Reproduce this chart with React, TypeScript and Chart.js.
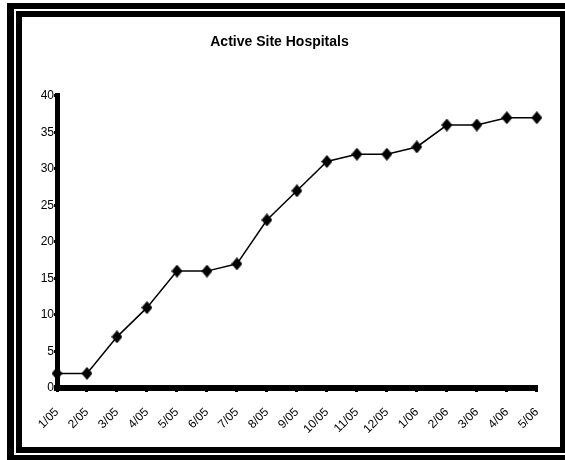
import React, { useEffect, useRef } from "react";
import { Chart, registerables } from "chart.js";

Chart.register(...registerables);

const categories = ["1/05", "2/05", "3/05", "4/05", "5/05", "6/05", "7/05", "8/05", "9/05", "10/05", "11/05", "12/05", "1/06", "2/06", "3/06", "4/06", "5/06"];
const hospitals = [2, 2, 7, 11, 16, 16, 17, 23, 27, 31, 32, 32, 33, 36, 36, 37, 37];
const yMin = 0;
const yMax = 40;
const yStep = 5;
const titleText = "Active Site Hospitals";

function makeDiamond(w: number, h: number): HTMLCanvasElement {
  const c = document.createElement("canvas");
  c.width = w;
  c.height = h;
  const ctx = c.getContext("2d")!;
  ctx.fillStyle = "#000";
  ctx.beginPath();
  ctx.moveTo(w / 2, 0);
  ctx.lineTo(w, h / 2);
  ctx.lineTo(w / 2, h);
  ctx.lineTo(0, h / 2);
  ctx.closePath();
  ctx.fill();
  return c;
}

export default function App() {
  const ref = useRef<HTMLCanvasElement | null>(null);

  useEffect(() => {
    if (!ref.current) return;
    const diamond = makeDiamond(11, 13);
    const chart = new Chart(ref.current, {
      type: "line",
      data: {
        labels: categories,
        datasets: [
          {
            data: hospitals,
            borderColor: "#000",
            backgroundColor: "#000",
            borderWidth: 1.5,
            pointStyle: diamond as any,
            pointRadius: 6,
            tension: 0,
          },
        ],
      },
      options: {
        animation: false,
        responsive: false,
        maintainAspectRatio: false,
        layout: { padding: { left: 0, right: 23, top: 0, bottom: 0 } },
        plugins: {
          legend: { display: false },
          tooltip: { enabled: false },
          title: {
            display: true,
            text: titleText,
            color: "#000",
            font: { family: "Liberation Sans, Arial, sans-serif", size: 14, weight: "bold" },
            padding: { top: 17, bottom: 45 },
          },
        },
        scales: {
          x: {
            offset: false,
            grid: {
              drawOnChartArea: false,
              drawTicks: true,
              tickLength: 4,
              lineWidth: 3,
              color: "#000",
            },
            border: { display: true, color: "#000", width: 6 },
            ticks: {
              color: "#000",
              font: { family: "Liberation Sans, Arial, sans-serif", size: 12 },
              maxRotation: 45,
              minRotation: 45,
              autoSkip: false,
              padding: 13,
            },
            afterFit: (s: any) => {
              s.height = 59;
            },
          },
          y: {
            min: yMin,
            max: yMax,
            grid: {
              drawOnChartArea: false,
              drawTicks: true,
              tickLength: 3,
              lineWidth: 3,
              color: "#000",
            },
            border: { display: true, color: "#000", width: 5 },
            ticks: {
              stepSize: yStep,
              color: "#000",
              padding: 0,
              font: { family: "Liberation Sans, Arial, sans-serif", size: 12 },
            },
            afterFit: (s: any) => {
              s.width = 35;
            },
          },
        },
      },
    });
    return () => chart.destroy();
  }, []);

  return (
    <div style={{ position: "fixed", left: 0, top: 0, width: 565, height: 460, overflow: "hidden", background: "#fff" }}>
      <div style={{ position: "absolute", left: 7, top: 3, width: 700, height: 600, background: "#000" }} />
      <div style={{ position: "absolute", left: 14, top: 9, width: 700, height: 446, background: "#fff" }} />
      <div style={{ position: "absolute", left: 16, top: 11, width: 700, height: 442, background: "#000" }} />
      <div style={{ position: "absolute", left: 22, top: 17, width: 538, height: 430, background: "#fff" }}>
        <canvas ref={ref} width={538} height={430} style={{ display: "block", width: 538, height: 430 }} />
      </div>
    </div>
  );
}
